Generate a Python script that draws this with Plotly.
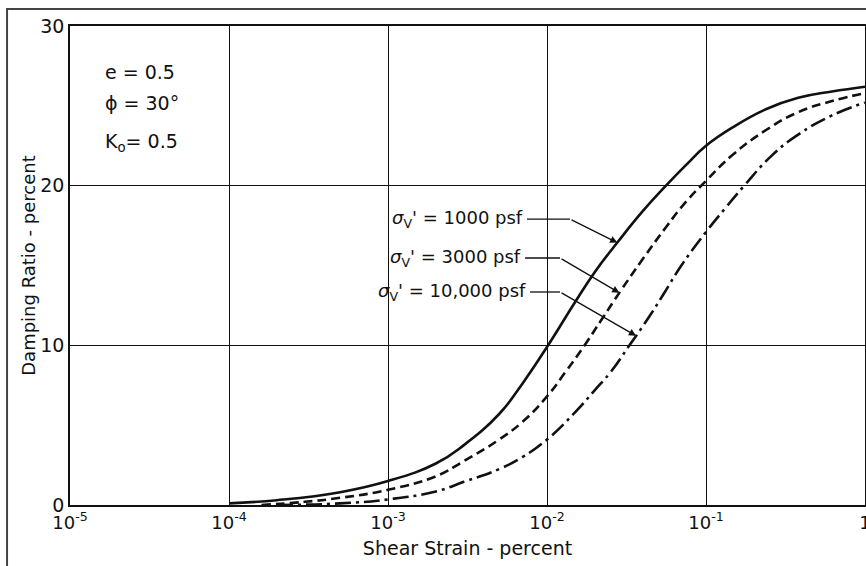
import numpy as np
import plotly.graph_objects as go

# Shear strain (percent) and damping ratio (percent) for three vertical stresses
strain_1000 = [1e-4, 2e-4, 5e-4, 1e-3, 2e-3, 3e-3, 5e-3, 7e-3, 1e-2, 1.5e-2, 2e-2, 2.8e-2,
               4e-2, 5.6e-2, 7.5e-2, 1e-1, 1.5e-1, 2.4e-1, 3.8e-1, 6.2e-1, 1.0]
damp_1000 = [0.1, 0.3, 0.8, 1.5, 2.6, 3.75, 5.7, 7.6, 9.9, 12.7, 14.6, 16.5,
             18.4, 20.0, 21.3, 22.5, 23.7, 24.8, 25.5, 25.9, 26.2]

strain_3000 = [1.6e-4, 3e-4, 5e-4, 1e-3, 2e-3, 3e-3, 5e-3, 7e-3, 1e-2, 1.3e-2, 1.75e-2, 2.2e-2,
               2.9e-2, 4e-2, 5.6e-2, 7.5e-2, 1e-1, 1.46e-1, 2.4e-1, 3.8e-1, 6.2e-1, 1.0]
damp_3000 = [0.0, 0.2, 0.45, 0.95, 1.8, 2.75, 4.1, 5.2, 6.8, 8.3, 10.1, 11.6,
             13.4, 15.4, 17.4, 19.0, 20.3, 21.9, 23.5, 24.6, 25.3, 25.8]

strain_10000 = [2e-4, 5e-4, 1e-3, 2e-3, 3e-3, 5e-3, 7e-3, 1e-2, 1.5e-2, 2e-2, 2.5e-2, 3.3e-2,
                4.4e-2, 5.4e-2, 7e-2, 1e-1, 1.35e-1, 1.74e-1, 2.6e-1, 3.8e-1, 6.2e-1, 1.0]
damp_10000 = [0.0, 0.1, 0.35, 0.85, 1.45, 2.25, 3.0, 4.1, 5.8, 7.2, 8.3, 10.0,
              11.8, 13.2, 15.0, 17.1, 18.7, 20.0, 21.9, 23.2, 24.4, 25.2]

x_tick_vals = [1e-5, 1e-4, 1e-3, 1e-2, 1e-1, 1]
x_tick_text = ["10<sup>-5</sup>", "10<sup>-4</sup>", "10<sup>-3</sup>", "10<sup>-2</sup>", "10<sup>-1</sup>", "1"]
y_tick_vals = [0, 10, 20, 30]

stress_labels = ["<i>σ</i><sub>V</sub>' = 1000 psf",
                 "<i>σ</i><sub>V</sub>' = 3000 psf",
                 "<i>σ</i><sub>V</sub>' = 10,000 psf"]

FONT = "DejaVu Sans"
INK = "#111111"


def damping_at(log_strain, strains, damps):
    """Interpolate a curve at a strain given as log10(percent)."""
    return float(np.interp(log_strain, np.log10(strains), damps))


fig = go.Figure()

curves = [
    (strain_1000, damp_1000, "solid"),
    (strain_3000, damp_3000, "9px,5px"),
    (strain_10000, damp_10000, "16px,5px,3px,5px"),
]
for strains, damps, dash in curves:
    fig.add_trace(go.Scatter(
        x=strains, y=damps, mode="lines",
        line=dict(color=INK, width=2.6, dash=dash, shape="spline", smoothing=1.3),
        showlegend=False, hoverinfo="skip",
    ))

# Stress labels with leader lines and arrows (x in log10 units)
leaders = [
    # label end x, label y, bend x, arrow tip x
    (-2.126, 17.9, -1.855, -1.558),
    (-2.138, 15.47, -1.918, -1.545),
    (-2.107, 13.34, -1.918, -1.44),
]
for (x_end, y_lab, x_bend, x_tip), label, (strains, damps, _) in zip(leaders, stress_labels, curves):
    fig.add_annotation(
        x=x_end, y=y_lab, xref="x", yref="y", text=label, showarrow=False,
        xanchor="right", yanchor="middle", xshift=-2,
        font=dict(family=FONT, size=18, color=INK),
    )
    fig.add_trace(go.Scatter(
        x=[10 ** x_end, 10 ** x_bend], y=[y_lab, y_lab], mode="lines",
        line=dict(color=INK, width=1.3), showlegend=False, hoverinfo="skip",
    ))
    y_tip = damping_at(x_tip, strains, damps)
    fig.add_annotation(
        x=x_tip, y=y_tip, xref="x", yref="y", ax=x_bend, ay=y_lab, axref="x", ayref="y",
        text="", showarrow=True, arrowhead=2, arrowsize=1.1, arrowwidth=1.3, arrowcolor=INK,
    )

# Soil parameters
params = [("e = 0.5", 27.1), ("ϕ = 30°", 25.2), ("K<sub>o</sub>= 0.5", 22.7)]
for text, y in params:
    fig.add_annotation(
        x=-4.79, y=y, xref="x", yref="y", text=text, showarrow=False,
        xanchor="left", yanchor="middle", font=dict(family=FONT, size=19, color=INK),
    )

# Outer frame around the figure
fig.add_shape(type="rect", xref="paper", yref="paper",
              x0=-0.0792, x1=1.01, y0=-0.15, y1=1.0355,
              line=dict(color="#444444", width=2), layer="below")

fig.update_xaxes(
    type="log", range=[-5, 0], automargin=False,
    tickvals=x_tick_vals, ticktext=x_tick_text,
    showgrid=True, gridcolor=INK, gridwidth=1,
    showline=True, linecolor=INK, linewidth=2, mirror=True,
    ticks="", tickfont=dict(family=FONT, size=18, color=INK), ticklabeloverflow="allow",
    title=dict(text="Shear Strain - percent", font=dict(family=FONT, size=19, color=INK), standoff=10),
    minor=dict(showgrid=False),
)
fig.update_yaxes(
    range=[0, 30], tickvals=y_tick_vals, automargin=False,
    showgrid=True, gridcolor=INK, gridwidth=1, zeroline=False,
    showline=True, linecolor=INK, linewidth=1.5, mirror=True,
    ticks="", tickfont=dict(family=FONT, size=19, color=INK),
    title=dict(text="Damping Ratio - percent", font=dict(family=FONT, size=18, color=INK), standoff=0),
)

fig.update_layout(
    width=866, height=566,
    margin=dict(l=70, r=1, t=26, b=61),
    paper_bgcolor="white", plot_bgcolor="white",
)

fig.write_html("out.html")
